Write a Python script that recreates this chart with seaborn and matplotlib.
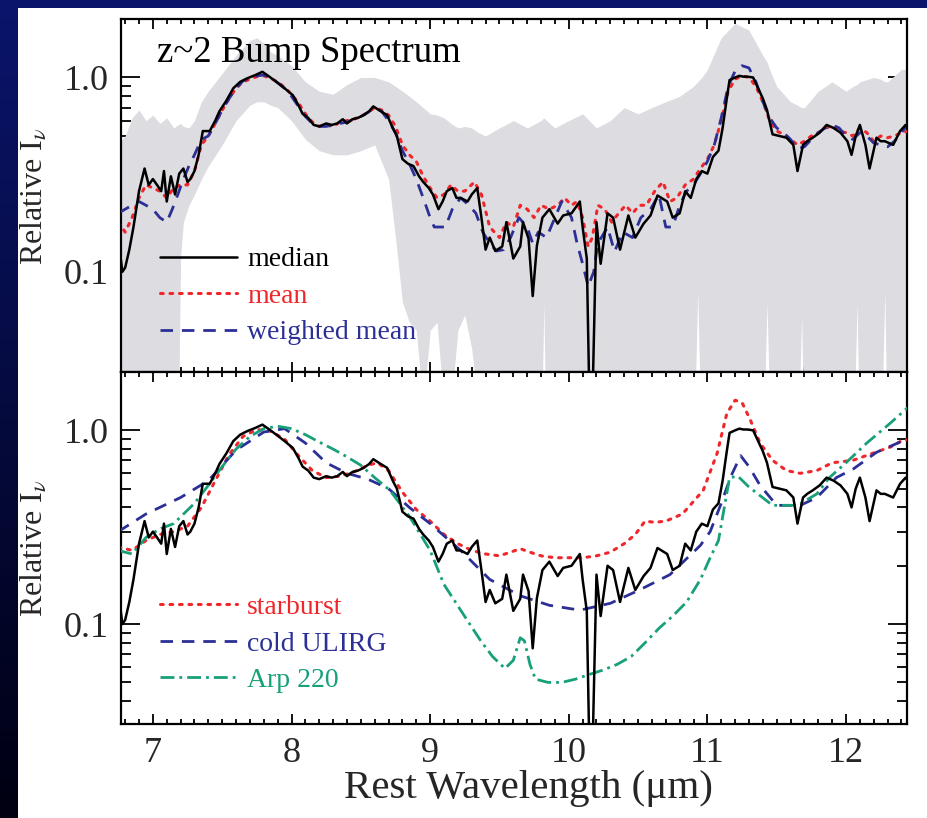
import numpy as np
import pandas as pd
import matplotlib
matplotlib.use("Agg")
import matplotlib.pyplot as plt
from matplotlib.ticker import FixedLocator, NullFormatter, FixedFormatter
import seaborn as sns

# ---------------- data ----------------
# stacked z~2 bump spectrum (median)
median_wl = [6.76, 6.78, 6.80, 6.83, 6.86, 6.90, 6.94, 6.97, 7.00, 7.03, 7.06, 7.08,
             7.10, 7.13, 7.16, 7.19, 7.22, 7.25, 7.27, 7.30, 7.33, 7.36, 7.41, 7.45,
             7.48, 7.53, 7.58, 7.63, 7.68, 7.74, 7.79, 7.84, 7.89, 7.95, 8.01, 8.05,
             8.08, 8.12, 8.16, 8.20, 8.25, 8.29, 8.33, 8.37, 8.40, 8.44, 8.48, 8.52,
             8.56, 8.59, 8.63, 8.66, 8.69, 8.73, 8.76, 8.80, 8.84, 8.88, 8.92, 8.95,
             8.99, 9.02, 9.06, 9.09, 9.12, 9.16, 9.19, 9.22, 9.27, 9.30, 9.34, 9.37,
             9.40, 9.43, 9.47, 9.52, 9.55, 9.60, 9.65, 9.67, 9.71, 9.74, 9.77, 9.81,
             9.86, 9.92, 9.96, 10.02, 10.08, 10.10, 10.13, 10.15, 10.17, 10.20, 10.23,
             10.28, 10.32, 10.37, 10.43, 10.48, 10.54, 10.59, 10.64, 10.71, 10.75,
             10.80, 10.84, 10.88, 10.92, 10.96, 11.00, 11.04, 11.08, 11.11, 11.14,
             11.16, 11.20, 11.23, 11.26, 11.29, 11.33, 11.36, 11.40, 11.43, 11.47,
             11.52, 11.57, 11.62, 11.65, 11.69, 11.72, 11.76, 11.81, 11.86, 11.91,
             11.96, 12.01, 12.04, 12.07, 12.10, 12.14, 12.17, 12.22, 12.25, 12.28,
             12.34, 12.39, 12.43, 12.47, 12.50]
median_flux = [0.13, 0.10, 0.105, 0.13, 0.17, 0.26, 0.34, 0.28, 0.30, 0.28, 0.26, 0.33,
               0.23, 0.31, 0.25, 0.32, 0.34, 0.29, 0.30, 0.33, 0.40, 0.53, 0.53, 0.60,
               0.67, 0.76, 0.88, 0.95, 0.99, 1.03, 1.07, 1.01, 0.95, 0.88, 0.81, 0.72,
               0.65, 0.62, 0.57, 0.56, 0.58, 0.57, 0.58, 0.61, 0.58, 0.61, 0.62, 0.64,
               0.67, 0.71, 0.68, 0.66, 0.64, 0.55, 0.50, 0.38, 0.36, 0.35, 0.31, 0.29,
               0.27, 0.25, 0.21, 0.23, 0.26, 0.27, 0.24, 0.24, 0.23, 0.25, 0.27, 0.19,
               0.13, 0.15, 0.128, 0.135, 0.18, 0.117, 0.135, 0.18, 0.148, 0.075, 0.136, 0.19,
               0.21, 0.177, 0.195, 0.20, 0.23, 0.17, 0.117, 0.02, 0.02, 0.18, 0.11,
               0.20, 0.19, 0.13, 0.195, 0.15, 0.177, 0.195, 0.247, 0.23, 0.19,
               0.20, 0.26, 0.24, 0.30, 0.33, 0.32, 0.39, 0.42, 0.55, 0.78,
               0.97, 1.00, 1.02, 1.01, 1.01, 1.00, 0.90, 0.78, 0.68, 0.51,
               0.50, 0.49, 0.45, 0.33, 0.45, 0.47, 0.49, 0.52, 0.57, 0.55,
               0.52, 0.47, 0.40, 0.50, 0.57, 0.45, 0.34, 0.49, 0.47, 0.47,
               0.45, 0.53, 0.57, 0.52, 0.55]

mean_wl = [6.75, 6.80, 6.85, 6.90, 6.95, 7.00, 7.05, 7.10, 7.15, 7.20, 7.25, 7.30, 7.35,
           7.40, 7.45, 7.50, 7.55, 7.60, 7.65, 7.70, 7.75, 7.80, 7.85, 7.90, 7.95, 8.00,
           8.05, 8.10, 8.15, 8.20, 8.25, 8.30, 8.35, 8.40, 8.45, 8.50, 8.55, 8.60, 8.65,
           8.70, 8.75, 8.80, 8.85, 8.90, 8.95, 9.00, 9.05, 9.10, 9.15, 9.20, 9.25, 9.32,
           9.37, 9.43, 9.50, 9.55, 9.60, 9.65, 9.70, 9.75, 9.80, 9.86, 9.92, 9.97, 10.02,
           10.06, 10.10, 10.14, 10.17, 10.21, 10.26, 10.31, 10.36, 10.41, 10.46, 10.51,
           10.56, 10.62, 10.68, 10.73, 10.78, 10.84, 10.90, 10.95, 11.00, 11.05, 11.10,
           11.15, 11.20, 11.25, 11.30, 11.35, 11.40, 11.45, 11.50, 11.55, 11.60, 11.65,
           11.70, 11.75, 11.80, 11.85, 11.90, 11.95, 12.00, 12.05, 12.10, 12.15, 12.20,
           12.25, 12.30, 12.35, 12.40, 12.45, 12.50]
mean_flux = [0.18, 0.16, 0.19, 0.24, 0.28, 0.27, 0.26, 0.24, 0.27, 0.28, 0.28, 0.33, 0.45,
             0.50, 0.58, 0.68, 0.78, 0.88, 0.95, 0.98, 1.01, 1.02, 0.99, 0.95, 0.89, 0.82,
             0.74, 0.65, 0.59, 0.56, 0.57, 0.56, 0.59, 0.60, 0.61, 0.63, 0.66, 0.70, 0.68,
             0.64, 0.56, 0.45, 0.40, 0.37, 0.31, 0.27, 0.24, 0.25, 0.28, 0.26, 0.26, 0.29,
             0.25, 0.17, 0.15, 0.18, 0.17, 0.22, 0.21, 0.19, 0.22, 0.21, 0.22, 0.24, 0.22,
             0.23, 0.19, 0.135, 0.15, 0.22, 0.21, 0.18, 0.20, 0.22, 0.20, 0.22,
             0.22, 0.26, 0.29, 0.23, 0.24, 0.28, 0.30, 0.34, 0.38, 0.45, 0.60,
             0.85, 0.98, 1.02, 1.00, 0.90, 0.75, 0.60, 0.53, 0.51, 0.48, 0.45,
             0.47, 0.50, 0.52, 0.55, 0.56, 0.53, 0.52, 0.50, 0.55, 0.52, 0.47,
             0.50, 0.49, 0.50, 0.52, 0.53, 0.56]

wmean_wl = [6.75, 6.80, 6.85, 6.90, 6.95, 7.00, 7.05, 7.10, 7.14, 7.18, 7.22, 7.26, 7.30,
            7.35, 7.40, 7.45, 7.50, 7.55, 7.60, 7.65, 7.70, 7.75, 7.80, 7.85, 7.90, 7.95,
            8.00, 8.05, 8.10, 8.15, 8.20, 8.25, 8.30, 8.35, 8.40, 8.45, 8.50, 8.55, 8.60,
            8.65, 8.70, 8.75, 8.80, 8.85, 8.90, 8.95, 9.00, 9.03, 9.07, 9.11, 9.16, 9.22,
            9.28, 9.33, 9.38, 9.43, 9.48, 9.53, 9.58, 9.64, 9.70, 9.74, 9.78, 9.84, 9.90,
            9.95, 10.02, 10.06, 10.10, 10.14, 10.18, 10.21, 10.28, 10.33, 10.39, 10.46,
            10.52, 10.59, 10.65, 10.70, 10.75, 10.80, 10.85, 10.90, 10.95, 11.00, 11.05,
            11.10, 11.15, 11.20, 11.25, 11.30, 11.35, 11.40, 11.45, 11.50, 11.55, 11.60,
            11.65, 11.70, 11.75, 11.80, 11.85, 11.90, 11.95, 12.00, 12.05, 12.10, 12.15,
            12.20, 12.25, 12.30, 12.35, 12.40, 12.45, 12.50]
wmean_flux = [0.20, 0.21, 0.22, 0.23, 0.22, 0.21, 0.19, 0.18, 0.21, 0.25, 0.30, 0.35, 0.40,
              0.48, 0.50, 0.58, 0.68, 0.78, 0.88, 0.96, 1.00, 1.02, 1.03, 1.00, 0.94, 0.88,
              0.80, 0.71, 0.63, 0.58, 0.56, 0.56, 0.57, 0.58, 0.59, 0.61, 0.63, 0.66, 0.70,
              0.67, 0.60, 0.52, 0.42, 0.36, 0.30, 0.24, 0.19, 0.17, 0.17, 0.17, 0.21, 0.24,
              0.22, 0.20, 0.16, 0.14, 0.128, 0.13, 0.15, 0.19, 0.17, 0.14, 0.16, 0.15, 0.19,
              0.23, 0.19, 0.14, 0.11, 0.084, 0.10, 0.14, 0.17, 0.127, 0.16, 0.15,
              0.19, 0.21, 0.25, 0.17, 0.17, 0.22, 0.26, 0.28, 0.32, 0.37, 0.45,
              0.62, 0.90, 1.08, 1.15, 1.12, 0.95, 0.75, 0.62, 0.55, 0.52, 0.48,
              0.43, 0.44, 0.48, 0.52, 0.55, 0.57, 0.55, 0.50, 0.48, 0.52, 0.50,
              0.46, 0.45, 0.44, 0.47, 0.52, 0.58, 0.62]

# spread of the individual spectra (grey band)
band_wl = [6.75, 6.80, 6.85, 6.90, 6.95, 7.00, 7.05, 7.10, 7.15, 7.18, 7.20, 7.22, 7.26,
           7.30, 7.35, 7.40, 7.50, 7.60, 7.70, 7.75, 7.80, 7.85, 7.90, 8.00, 8.10, 8.20,
           8.30, 8.40, 8.50, 8.60, 8.70, 8.75, 8.80, 8.85, 8.90, 8.95, 9.00, 9.05, 9.10,
           9.15, 9.20, 9.25, 9.30, 9.35, 9.40, 9.50, 9.60, 9.70, 9.80, 9.82, 9.84, 9.90,
           10.00, 10.10, 10.20, 10.30, 10.40, 10.50, 10.60, 10.70, 10.80, 10.90, 10.93,
           10.96, 11.00, 11.10, 11.20, 11.30, 11.40, 11.43, 11.46, 11.50, 11.60, 11.65,
           11.68, 11.70, 11.80, 11.90, 12.00, 12.05, 12.08, 12.10, 12.20, 12.25, 12.28,
           12.30, 12.40, 12.50]
band_hi = [0.46, 0.50, 0.62, 0.68, 0.60, 0.64, 0.58, 0.62, 0.55, 0.57, 0.58, 0.56, 0.55,
           0.60, 0.75, 0.85, 1.05, 1.30, 1.55, 1.60, 1.50, 1.35, 1.30, 1.15, 0.95, 0.85,
           0.82, 0.92, 1.00, 1.00, 0.95, 0.90, 0.85, 0.80, 0.75, 0.70, 0.65, 0.64, 0.62,
           0.58, 0.55, 0.56, 0.55, 0.52, 0.50, 0.55, 0.60, 0.55, 0.60, 0.62, 0.60, 0.55,
           0.60, 0.65, 0.55, 0.60, 0.70, 0.65, 0.70, 0.75, 0.80, 0.90, 0.95,
           1.00, 1.10, 1.60, 1.90, 1.75, 1.30, 1.20, 1.05, 0.90, 0.75, 0.72,
           0.70, 0.70, 0.85, 0.95, 0.85, 0.90, 0.92, 0.95, 1.00, 0.98, 0.95,
           0.95, 1.10, 1.10]
band_lo = [0.01, 0.01, 0.01, 0.01, 0.01, 0.01, 0.01, 0.01, 0.01, 0.01, 0.12, 0.18, 0.22,
           0.25, 0.30, 0.35, 0.45, 0.60, 0.72, 0.75, 0.75, 0.72, 0.70, 0.60, 0.48, 0.42,
           0.40, 0.40, 0.42, 0.45, 0.30, 0.15, 0.07, 0.055, 0.05, 0.02, 0.05, 0.055, 0.02,
           0.02, 0.05, 0.06, 0.04, 0.02, 0.01, 0.01, 0.01, 0.01, 0.01, 0.07, 0.01, 0.01,
           0.01, 0.01, 0.01, 0.01, 0.01, 0.01, 0.01, 0.01, 0.01, 0.01, 0.08,
           0.01, 0.01, 0.01, 0.01, 0.01, 0.01, 0.07, 0.01, 0.01, 0.01, 0.01,
           0.06, 0.01, 0.01, 0.01, 0.01, 0.01, 0.07, 0.01, 0.01, 0.01, 0.08,
           0.01, 0.01, 0.01]

# template spectra
sb_wl = [6.75, 6.85, 6.95, 7.05, 7.15, 7.25, 7.35, 7.45, 7.55, 7.65, 7.75, 7.85, 7.95,
         8.05, 8.15, 8.25, 8.35, 8.45, 8.55, 8.62, 8.70, 8.80, 8.90, 9.00, 9.10, 9.20,
         9.30, 9.40, 9.50, 9.58, 9.65, 9.72, 9.80, 9.90, 10.00, 10.10, 10.20, 10.30,
         10.40, 10.48, 10.55, 10.62, 10.70, 10.82, 10.97, 11.07, 11.14, 11.20, 11.25,
         11.31, 11.38, 11.47, 11.57, 11.67, 11.79, 11.90, 12.05, 12.19, 12.32, 12.41,
         12.50]
sb_flux = [0.25, 0.24, 0.27, 0.29, 0.30, 0.32, 0.40, 0.55, 0.75, 0.93, 1.01, 0.99, 0.90,
           0.74, 0.62, 0.57, 0.58, 0.61, 0.66, 0.68, 0.62, 0.48, 0.39, 0.34, 0.29, 0.26,
           0.24, 0.23, 0.225, 0.235, 0.245, 0.235, 0.225, 0.22, 0.22, 0.22, 0.225, 0.235,
           0.26, 0.29, 0.34, 0.335, 0.34, 0.37, 0.49, 0.76, 1.22, 1.43, 1.39,
           1.13, 0.86, 0.70, 0.62, 0.60, 0.62, 0.68, 0.70, 0.76, 0.82, 0.89,
           0.90]

cold_wl = [6.75, 6.95, 7.20, 7.40, 7.60, 7.80, 7.95, 8.10, 8.25, 8.40, 8.55, 8.70, 8.85,
           9.00, 9.22, 9.43, 9.65, 9.86, 10.08, 10.30, 10.51, 10.73, 10.95, 11.02, 11.10,
           11.17, 11.24, 11.30, 11.38, 11.50, 11.67, 11.79, 11.93, 12.05, 12.22, 12.39,
           12.50]
cold_flux = [0.30, 0.37, 0.45, 0.55, 0.79, 0.98, 1.02, 0.86, 0.68, 0.60, 0.56, 0.50, 0.40,
             0.33, 0.24, 0.17, 0.14, 0.125, 0.118, 0.128, 0.15, 0.18, 0.255, 0.30, 0.42,
             0.58, 0.74, 0.65, 0.52, 0.41, 0.41, 0.45, 0.57, 0.63, 0.77, 0.87,
             0.92]

arp_wl = [6.75, 6.85, 6.95, 7.05, 7.15, 7.30, 7.40, 7.50, 7.60, 7.70, 7.80, 7.90, 8.00,
          8.10, 8.20, 8.30, 8.40, 8.50, 8.60, 8.71, 8.85, 9.00, 9.10, 9.22, 9.36, 9.45,
          9.54, 9.60, 9.65, 9.68, 9.72, 9.76, 9.85, 9.95, 10.05, 10.15, 10.25, 10.35,
          10.45, 10.55, 10.65, 10.75, 10.85, 10.95, 11.02, 11.08, 11.16, 11.22, 11.30,
          11.47, 11.65, 11.79, 11.88, 12.00, 12.15, 12.32, 12.44, 12.50]
arp_flux = [0.24, 0.23, 0.28, 0.31, 0.33, 0.42, 0.52, 0.65, 0.80, 0.93, 1.02, 1.05, 1.02,
            0.95, 0.87, 0.80, 0.73, 0.66, 0.57, 0.49, 0.36, 0.24, 0.16, 0.118, 0.083, 0.068,
            0.059, 0.065, 0.085, 0.082, 0.062, 0.052, 0.05, 0.05, 0.052, 0.055, 0.058, 0.062,
            0.068, 0.08, 0.095, 0.11, 0.13, 0.17, 0.22, 0.27, 0.57, 0.58, 0.51,
            0.41, 0.41, 0.47, 0.57, 0.68, 0.86, 1.09, 1.30, 1.35]

x_ticks = [7, 8, 9, 10, 11, 12]
y_ticks = [0.1, 1.0]
y_ticklabels = ["0.1", "1.0"]

# ---------------- style ----------------
sns.set_theme(style="ticks")
plt.rcParams["font.family"] = ["Liberation Serif", "DejaVu Serif"]
plt.rcParams["mathtext.fontset"] = "stix"

RED = "#f0262a"
BLUE = "#2b2f96"
GREEN = "#17a07a"
GREY = "#dcdce1"

fig = plt.figure(figsize=(9.28, 8.18), dpi=100, facecolor="white")

# slide background: navy band on top, dark gradient strip on the left
grad = np.linspace(0, 1, 256).reshape(-1, 1)
top_c = np.array([0.04, 0.08, 0.42])
bot_c = np.array([0.0, 0.0, 0.07])
grad_img = top_c[None, None, :] * (1 - grad[:, :, None]) + bot_c[None, None, :] * grad[:, :, None]

strip = fig.add_axes([0, 0, 18 / 928, 1], zorder=10)
strip.imshow(grad_img, aspect="auto", extent=[0, 1, 0, 1], origin="upper")
strip.set_axis_off()
band = fig.add_axes([0, 1 - 8 / 818, 1, 8 / 818], zorder=10)
band.imshow(np.tile(grad_img[:4], (1, 4, 1)), aspect="auto", extent=[0, 1, 0, 1])
band.set_axis_off()

L, R = 121 / 928, 907 / 928
y_top, y_mid, y_bot = 1 - 19 / 818, 1 - 372 / 818, 1 - 724 / 818
ax1 = fig.add_axes([L, y_mid, R - L, y_top - y_mid])
ax2 = fig.add_axes([L, y_bot, R - L, y_mid - y_bot])

XLIM = (6.77, 12.44)
YLIM = (0.0305, 2.0)


def style_axis(ax, show_xlabels):
    ax.set_yscale("log")
    ax.set_xlim(*XLIM)
    ax.set_ylim(*YLIM)
    ax.set_facecolor("white")
    ax.xaxis.set_major_locator(FixedLocator(x_ticks))
    ax.xaxis.set_minor_locator(FixedLocator(np.round(np.arange(6.8, 12.45, 0.1), 2)))
    ax.yaxis.set_major_locator(FixedLocator(y_ticks))
    ax.yaxis.set_major_formatter(FixedFormatter(y_ticklabels))
    minors = [m * d for d in (0.01, 0.1, 1.0) for m in range(2, 10)]
    ax.yaxis.set_minor_locator(FixedLocator(minors))
    ax.yaxis.set_minor_formatter(NullFormatter())
    ax.tick_params(which="both", direction="in", top=True, right=True,
                   color="black", width=1.3)
    ax.tick_params(axis="x", which="major", length=7, labelsize=26, pad=9)
    ax.tick_params(axis="x", which="minor", length=3.5)
    ax.tick_params(axis="y", which="major", length=14, labelsize=26, pad=9)
    ax.tick_params(axis="y", which="minor", length=7)
    if not show_xlabels:
        ax.tick_params(axis="x", labelbottom=False)
    for s in ax.spines.values():
        s.set_linewidth(1.6)
        s.set_color("black")
    ax.set_ylabel("Relative I$_\\nu$", fontsize=23)
    ax.yaxis.set_label_coords(-0.092, 0.5)


# ---------------- top panel ----------------
ax1.fill_between(band_wl, band_lo, band_hi, color=GREY, linewidth=0, zorder=1)
sns.lineplot(x=median_wl, y=median_flux, ax=ax1, color="black", linewidth=1.8,
             label="median", zorder=4, sort=False)
sns.lineplot(x=mean_wl, y=mean_flux, ax=ax1, color=RED, linewidth=2.2,
             linestyle=(0, (0.9, 2.2)), dash_capstyle="round", label="mean", zorder=3, sort=False)
sns.lineplot(x=wmean_wl, y=wmean_flux, ax=ax1, color=BLUE, linewidth=2.0,
             linestyle=(0, (4.5, 3.2)), label="weighted mean", zorder=3, sort=False)
style_axis(ax1, False)
ax1.set_xlabel("")
ax1.text(0.046, 0.878, "z~2 Bump Spectrum", transform=ax1.transAxes,
         fontsize=26.5, va="baseline", ha="left", color="black")
ax1.legend(loc="lower left", bbox_to_anchor=(0.035, 0.044), frameon=False,
           fontsize=20, handlelength=2.8, handletextpad=0.35, labelspacing=0.4,
           labelcolor="linecolor", borderaxespad=0)

# ---------------- bottom panel ----------------
sns.lineplot(x=median_wl, y=median_flux, ax=ax2, color="black", linewidth=1.8,
             zorder=4, sort=False, legend=False)
sns.lineplot(x=sb_wl, y=sb_flux, ax=ax2, color=RED, linewidth=2.2,
             linestyle=(0, (0.9, 2.2)), dash_capstyle="round", label="starburst", zorder=3,
             sort=False)
sns.lineplot(x=cold_wl, y=cold_flux, ax=ax2, color=BLUE, linewidth=2.0,
             linestyle=(0, (4.5, 3.2)), label="cold ULIRG", zorder=3, sort=False)
sns.lineplot(x=arp_wl, y=arp_flux, ax=ax2, color=GREEN, linewidth=2.0,
             linestyle=(0, (5, 1.8, 1, 1.8)), label="Arp 220", zorder=3, sort=False)
style_axis(ax2, True)
ax2.set_xlabel("Rest Wavelength (\u03bcm)", fontsize=29.5)
ax2.xaxis.set_label_coords(0.518, -0.132)
handles, labels = ax2.get_legend_handles_labels()
ax2.legend(handles, labels, loc="lower left", bbox_to_anchor=(0.035, 0.056), frameon=False,
           fontsize=20, handlelength=2.8, handletextpad=0.35, labelspacing=0.4,
           labelcolor="linecolor", borderaxespad=0)

fig.savefig("out.png", dpi=100, facecolor="white")
